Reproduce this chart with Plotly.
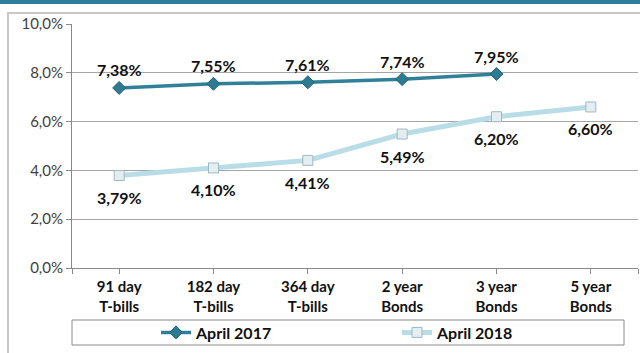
import plotly.graph_objects as go

# Yield by instrument tenor
categories = ["91 day<br>T-bills", "182 day<br>T-bills", "364 day<br>T-bills",
              "2 year<br>Bonds", "3 year<br>Bonds", "5 year<br>Bonds"]
april_2017 = [7.38, 7.55, 7.61, 7.74, 7.95]
april_2018 = [3.79, 4.10, 4.41, 5.49, 6.20, 6.60]
y_ticks = [0, 2, 4, 6, 8, 10]

W, H = 640, 353
L, R, T, B = 72, 2, 24, 85
pw, ph = W - L - R, H - T - B

def px_x(p):
    return (p - L) / pw

def px_y(p):
    return (H - B - p) / ph

def pct(v, digits):
    return f"{v:.{digits}f}%".replace(".", ",")

FONT = "Lato, 'Open Sans', sans-serif"
TEAL = "#2f8199"
LIGHT = "#b9dde6"
LABEL_FONT = dict(family=FONT, size=16, color="#111111", weight="bold")

xs = list(range(len(categories)))

fig = go.Figure()
fig.add_trace(go.Scatter(
    x=xs[:len(april_2017)], y=april_2017, name="April 2017",
    mode="lines+markers", legend="legend",
    line=dict(color=TEAL, width=3.5),
    marker=dict(symbol="diamond", size=10, color="#2d7b91",
                line=dict(color="#246577", width=1)),
))
fig.add_trace(go.Scatter(
    x=xs, y=april_2018, name="April 2018",
    mode="lines+markers", legend="legend2",
    line=dict(color=LIGHT, width=5),
    marker=dict(symbol="square", size=10, color="#e4eef1",
                line=dict(color="#9fb9c1", width=1)),
))

# value labels: 2017 above its points, 2018 below
annotations = []
for x, v in zip(xs, april_2017):
    annotations.append(dict(x=x, y=v, text=pct(v, 2), showarrow=False,
                            yshift=18, font=LABEL_FONT))
for x, v in zip(xs, april_2018):
    annotations.append(dict(x=x, y=v, text=pct(v, 2), showarrow=False,
                            yshift=-22, font=LABEL_FONT))

shapes = [
    # outer chart frame
    dict(type="rect", xref="paper", yref="paper",
         x0=px_x(8), x1=px_x(660), y0=px_y(370), y1=px_y(13),
         line=dict(color="#c8c8c8", width=2), fillcolor="rgba(0,0,0,0)", layer="below"),
    # banner strip at the top
    dict(type="rect", xref="paper", yref="paper",
         x0=px_x(-5), x1=px_x(650), y0=px_y(4), y1=px_y(-2),
         line=dict(width=0), fillcolor="#2e7e98", layer="below"),
    # legend box
    dict(type="rect", xref="paper", yref="paper",
         x0=px_x(72), x1=px_x(624), y0=px_y(345), y1=px_y(320),
         line=dict(color="#8a8a8a", width=1), fillcolor="#ffffff", layer="below"),
]

legend_common = dict(orientation="h", yanchor="middle", y=px_y(332.5),
                     xanchor="left", bgcolor="rgba(0,0,0,0)",
                     font=dict(family=FONT, size=16, color="#111111", weight="bold"))

fig.update_layout(
    width=W, height=H,
    margin=dict(l=L, r=R, t=T, b=B, autoexpand=False),
    paper_bgcolor="white", plot_bgcolor="white",
    font=dict(family=FONT, color="#404040"),
    showlegend=True,
    legend=dict(x=px_x(156), **legend_common),
    legend2=dict(x=px_x(397), **legend_common),
    shapes=shapes,
    annotations=annotations,
    xaxis=dict(
        range=[-0.5, len(categories) - 0.5],
        tickvals=[-0.5] + xs + [len(categories) - 0.5],
        ticktext=[""] + categories + [""],
        ticks="outside", ticklen=5, tickcolor="#8a8a8a",
        showline=True, linecolor="#8a8a8a", linewidth=1,
        showgrid=False, zeroline=False,
        tickfont=dict(family=FONT, size=15, color="#111111", weight="bold"),
    ),
    yaxis=dict(
        range=[0, 10], tickvals=y_ticks, ticktext=[pct(v, 1) for v in y_ticks],
        ticks="outside", ticklen=5, tickcolor="#8a8a8a",
        showline=True, linecolor="#8a8a8a", linewidth=1,
        showgrid=True, gridcolor="#a6a6a6", gridwidth=1, zeroline=False,
        tickfont=dict(family=FONT, size=15, color="#404040"),
    ),
)

fig.write_html("out.html")
